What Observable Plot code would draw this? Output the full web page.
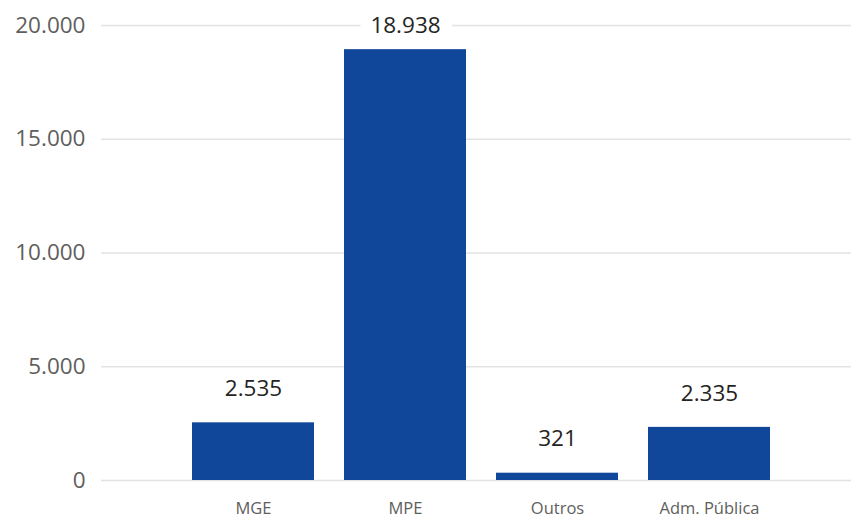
<!DOCTYPE html>
<html>
<head>
<meta charset="utf-8">
<script src="https://cdn.jsdelivr.net/npm/d3@7"></script>
<script src="https://cdn.jsdelivr.net/npm/@observablehq/plot@0.6"></script>
<style>
  html, body { margin: 0; padding: 0; background: #fff; }
  svg { display: block; }
</style>
</head>
<body>
<div id="chart"></div>
<script>
const categories = ["MGE", "MPE", "Outros", "Adm. Pública"];
const values = [2535, 18938, 321, 2335];
const yTicks = [0, 5000, 10000, 15000, 20000];

const data = categories.map((c, i) => ({category: c, value: values[i]}));
const fmt = d3.formatLocale({decimal: ",", thousands: ".", grouping: [3], currency: ["", ""]}).format(",d");

const chart = Plot.plot({
  width: 851,
  height: 520,
  marginLeft: 101,
  marginRight: 0,
  marginTop: 0,
  marginBottom: 40,
  style: {fontFamily: "'Open Sans', sans-serif", background: "#fff"},
  x: {domain: categories, range: [176, 785], paddingInner: 0.2, paddingOuter: 0.1, label: null},
  y: {domain: [0, 20000], range: [480, 25], label: null},
  marks: [
    Plot.ruleY(yTicks, {stroke: "#e3e3e3", strokeWidth: 1.5}),
    Plot.axisY({ticks: yTicks, tickFormat: fmt, tickSize: 0, tickPadding: 16, label: null, fontSize: 22.5, color: "#605e5c"}),
    Plot.axisX({tickSize: 0, tickPadding: 22, label: null, fontSize: 16.5, color: "#605e5c"}),
    Plot.barY(data, {x: "category", y: "value", fill: "#10479a"}),
    Plot.text(data.filter(d => d.value < 15000), {
      x: "category", y: "value", text: d => fmt(d.value),
      dy: -34, fontSize: 22.5, fill: "#252423"
    }),
    Plot.text(data.filter(d => d.value >= 15000), {
      x: "category", y: "value", text: d => fmt(d.value),
      dy: -24, fontSize: 22.5, fill: "#252423",
      stroke: "#fff", strokeWidth: 26, strokeLinejoin: "round"
    })
  ]
});
document.getElementById("chart").appendChild(chart);
</script>
</body>
</html>
